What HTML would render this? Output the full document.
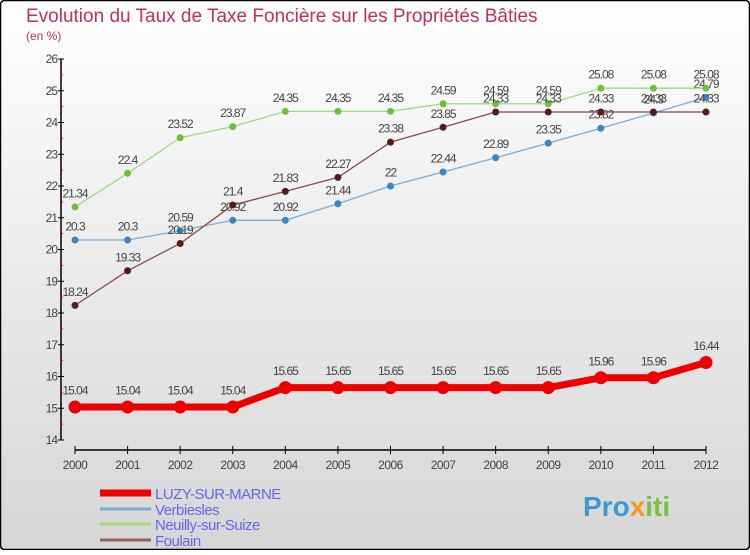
<!DOCTYPE html>
<html><head><meta charset="utf-8"><style>
html,body{margin:0;padding:0;}
body{width:750px;height:550px;overflow:hidden;font-family:"Liberation Sans",sans-serif;}
svg text{font-family:"Liberation Sans",sans-serif;}
</style></head><body>
<svg id="chart" width="750" height="550" xmlns="http://www.w3.org/2000/svg">
<defs><linearGradient id="bg" x1="0" y1="0" x2="0" y2="1"><stop offset="0" stop-color="#ffffff"/><stop offset="1" stop-color="#d6d6d6"/></linearGradient></defs>
<rect x="0.5" y="0.5" width="749" height="549" rx="4" fill="url(#bg)" stroke="#000" stroke-width="1.5"/>
<text x="26" y="22" font-size="19" fill="#c0305a">Evolution du Taux de Taxe Foncière sur les Propriétés Bâties</text>
<text x="26" y="40" font-size="12" fill="#c0305a">(en %)</text>
<g id="axes"></g><g id="series"></g><g id="legend"></g>
<text x="583" y="516" font-size="28" font-weight="bold" fill="#3a9ad9">Pro<tspan fill="#f29b1d">x</tspan><tspan fill="#7ac043">iti</tspan></text>
</svg>
<script>
const years=[2000,2001,2002,2003,2004,2005,2006,2007,2008,2009,2010,2011,2012];
const yTicks=[14,15,16,17,18,19,20,21,22,23,24,25,26];
const luzy=[15.04,15.04,15.04,15.04,15.65,15.65,15.65,15.65,15.65,15.65,15.96,15.96,16.44];
const verbiesles=[20.3,20.3,20.59,20.92,20.92,21.44,22,22.44,22.89,23.35,23.82,24.3,24.79];
const neuilly=[21.34,22.4,23.52,23.87,24.35,24.35,24.35,24.59,24.59,24.59,25.08,25.08,25.08];
const foulain=[18.24,19.33,20.19,21.4,21.83,22.27,23.38,23.85,24.33,24.33,24.33,24.33,24.33];
const seriesNames=["LUZY-SUR-MARNE","Verbiesles","Neuilly-sur-Suize","Foulain"];
const NS="http://www.w3.org/2000/svg";
function xs(i){return 75+i*(706-75)/(years.length-1);}
function ys(v){return 440-(v-14)*(440-59)/12;}
function mk(tag,attrs,parent){const e=document.createElementNS(NS,tag);for(const k in attrs)e.setAttribute(k,attrs[k]);parent.appendChild(e);return e;}
const axes=document.getElementById('axes');
let a=mk('line',{x1:61,y1:59,x2:61,y2:440,stroke:'#000','stroke-width':1.5},axes);


a=mk('line',{x1:75,y1:450,x2:706,y2:450,stroke:'#000','stroke-width':1.5},axes);


yTicks.forEach((t,i)=>{
  mk('line',{x1:58,y1:ys(t),x2:64,y2:ys(t),stroke:'#000'},axes);
  if(i<yTicks.length-1)mk('line',{x1:60,y1:ys(t+0.5),x2:63,y2:ys(t+0.5),stroke:'#e00'},axes);
  const tx=mk('text',{x:57,y:ys(t)+4,'font-size':12,fill:'#444','text-anchor':'end','letter-spacing':'-1'},axes);
  tx.textContent=t;
  
  
});
years.forEach((y,i)=>{
  mk('line',{x1:xs(i),y1:446,x2:xs(i),y2:454,stroke:'#000'},axes);
  const tx=mk('text',{x:xs(i),y:469,'font-size':12,fill:'#444','text-anchor':'middle','letter-spacing':'-0.5'},axes);
  tx.textContent=y;
  
  
});
const sg=document.getElementById('series');
function draw(data,color,dot,w,r,name){
  const g=mk('g',{},sg);
  
  
  mk('polyline',{points:data.map((v,i)=>xs(i)+','+ys(v)).join(' '),fill:'none',stroke:color,'stroke-width':w,'stroke-linejoin':'round'},g);
  data.forEach((v,i)=>{
    const c=mk('circle',{cx:xs(i),cy:ys(v),r:r,fill:dot},g);
    
    
    const t=mk('text',{x:xs(i),y:ys(v)-(r+6),'font-size':12,fill:'#444','text-anchor':'middle','letter-spacing':'-1'},g);
    t.textContent=v;
    
    
  });
}
draw(verbiesles,'#7aaed6','#3d86c4',1.3,3.5,'series-verbiesles');
draw(neuilly,'#9ddc7a','#6cc23a',1.3,3.5,'series-neuilly');
draw(foulain,'#8a4a4a','#5a1a1a',1.3,3.5,'series-foulain');
draw(luzy,'#ee0000','#ee0000',7,6.5,'series-luzy');
const lg=document.getElementById('legend');
const lc=['#ee0000','#7aaed6','#9ddc7a','#956060'],lw=[7,3,3,3],ly=[493,509,524,540];
seriesNames.forEach((n,i)=>{
  const g=mk('g',{},lg);
  
  
  mk('line',{x1:100,y1:ly[i],x2:151,y2:ly[i],stroke:lc[i],'stroke-width':lw[i]},g);
  const t=mk('text',{x:155,y:ly[i]+6,'font-size':15,fill:'#6666ee','letter-spacing':'-0.5'},g);
  t.textContent=n;
});
</script>
</body></html>
